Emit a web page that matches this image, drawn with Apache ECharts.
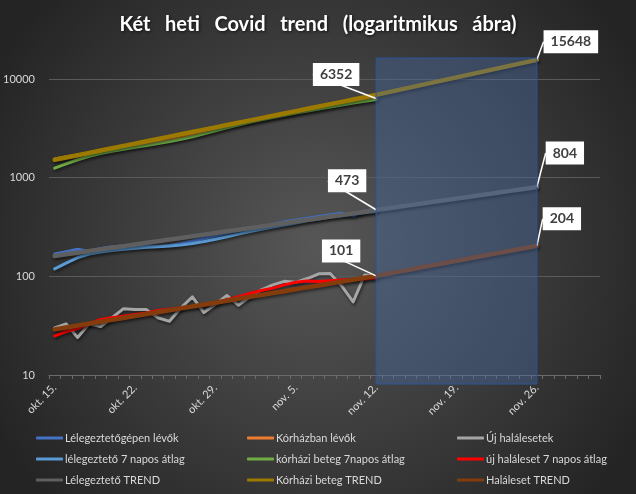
<!DOCTYPE html>
<html><head><meta charset="utf-8">
<script src="https://cdn.jsdelivr.net/npm/echarts@6/dist/echarts.min.js"></script>
<style>html,body{margin:0;padding:0;background:#2a2a2a}#c{width:636px;height:494px}</style>
</head><body><div id="c"></div>
<script>
const categories = ['okt. 15.','okt. 16.','okt. 17.','okt. 18.','okt. 19.','okt. 20.','okt. 21.','okt. 22.','okt. 23.','okt. 24.','okt. 25.','okt. 26.','okt. 27.','okt. 28.','okt. 29.','okt. 30.','okt. 31.',
 'nov. 1.','nov. 2.','nov. 3.','nov. 4.','nov. 5.','nov. 6.','nov. 7.','nov. 8.','nov. 9.','nov. 10.','nov. 11.','nov. 12.','nov. 13.','nov. 14.','nov. 15.','nov. 16.','nov. 17.','nov. 18.','nov. 19.','nov. 20.','nov. 21.','nov. 22.','nov. 23.','nov. 24.','nov. 25.','nov. 26.','nov. 27.','nov. 28.','nov. 29.','nov. 30.','dec. 1.'];

const ventilator = [169,178,188,180,192,200,203,201,203,201,206,215,228,243,258,275,292,305,318,338,358,372,388,405,420,438,410,462,473];
const hospital = [1545,1620,1700,1760,1850,1930,2020,2100,2190,2300,2400,2520,2680,2850,3050,3300,3520,3720,3920,4120,4350,4560,4780,5000,5250,5500,5800,6100,6352];
const deaths = [30,33,24,33,31,38,47,46,46,38,35,48,62,43,52,64,51,62,73,82,89,87,95,106,107,80,55,103,101];
const ventilatorAvg = [119,136,155,168,176,183,188,193,197,200,203,208,215,225,238,252,268,285,300,316,332,348,365,382,398,412,425,440,455];
const hospitalAvg = [1250,1380,1520,1650,1760,1850,1940,2030,2120,2220,2330,2450,2600,2780,2980,3200,3420,3640,3860,4070,4290,4510,4730,4950,5190,5440,5700,5960,6200];
const deathsAvg = [24.9,27.5,29.5,33,36.5,38,39.5,41,42.5,45,46.5,48,49.5,51,54,58,62,67,72,76,82,87,89.5,88.5,90,92,93,94,96];
const ventilatorTrend = [161,167.3,173.8,180.6,187.6,194.9,202.5,210.4,218.6,227.2,236,245.2,254.8,264.7,275,285.8,296.9,308.5,320.5,333,346,359.5,373.5,388,403.2,418.9,435.2,452.2,473,488.1,507.2,527,547.5,568.8,591,614,638,662.9,688.7,715.6,743.5,772.5,804];
const hospitalTrend = [1517,1601,1690,1784,1884,1988,2099,2216,2339,2469,2606,2751,2904,3066,3236,3416,3606,3807,4018,4242,4478,4727,4989,5267,5560,5869,6195,6540,6900,7315,7756,8222,8717,9242,9798,10388,11013,11676,12379,13124,13914,14752,15648];
const deathsTrend = [29,30.3,31.7,33.2,34.7,36.2,37.9,39.6,41.4,43.3,45.3,47.4,49.5,51.8,54.1,56.6,59.2,61.9,64.7,67.7,70.7,74,77.3,80.9,84.5,88.4,92.4,96.6,101,106.2,111.7,117.4,123.5,129.8,136.5,143.5,150.9,158.7,166.9,175.5,184.5,194,204];
const bandDates = ['nov. 12.','nov. 26.'];
const bandValues = [16330, 8.1];
const yRange = [10, 16330];

const FONT = 'Lato';
const shadow = {shadowColor:'rgba(0,0,0,0.5)', shadowBlur:3, shadowOffsetY:2, shadowOffsetX:1};

function withLabel(arr, idx) {
  return arr.map((v, i) => i === idx ? {value: v, label: {show: true}} : v);
}
function line(name, data, color, width, labelIdx, dx, dy) {
  const s = {
    name, type: 'line', data: labelIdx == null ? data : withLabel(data, labelIdx),
    color, showSymbol: true, showAllSymbol: true, symbol: 'circle', symbolSize: 0,
    lineStyle: Object.assign({color, width, cap: 'round', join: 'round'}, shadow),
    itemStyle: {color}, emphasis: {disabled: true}, silent: true, z: 2,
    label: {show: false, position: 'inside', backgroundColor: '#ffffff', color: '#404040',
      fontFamily: FONT, fontWeight: 'bold', fontSize: 14, padding: [5, 7, 4, 7]},
    labelLine: {show: true, lineStyle: {color: '#ffffff', width: 1.5}, smooth: false}
  };
  if (labelIdx != null) s.labelLayout = {dx, dy};
  return s;
}
const idx12 = categories.indexOf('nov. 12.');
const idx26 = categories.indexOf('nov. 26.');

const series = [
  line('Lélegeztetőgépen lévők', ventilator, '#4472C4', 3, idx12, -29, -29),
  line('Kórházban lévők', hospital, '#ED7D31', 3, idx12, -40, -24),
  line('Új halálesetek', deaths, '#A5A5A5', 3, idx12, -35, -25),
  line('lélegeztető 7 napos átlag', ventilatorAvg, '#5B9BD5', 3),
  line('kórházi beteg 7napos átlag', hospitalAvg, '#70AD47', 3),
  line('új haláleset 7 napos átlag', deathsAvg, '#FF0000', 3),
  line('Lélegeztető TREND', ventilatorTrend, '#5F5F5F', 4.5, idx26, 28, -34),
  line('Kórházi beteg TREND', hospitalTrend, '#9C7A00', 4.5, idx26, 34, -18),
  line('Haláleset TREND', deathsTrend, '#843C0C', 4.5, idx26, 25, -27),
  {
    type: 'custom', name: 'band', silent: true, z: 3, clip: false,
    data: [[categories.indexOf(bandDates[0]), categories.indexOf(bandDates[1]), bandValues[0], bandValues[1]]],
    encode: {x: [0, 1], y: [2, 3]},
    renderItem: function (params, api) {
      const p1 = api.coord([api.value(0), api.value(2)]);
      const p2 = api.coord([api.value(1), api.value(3)]);
      return {type: 'rect', shape: {x: p1[0], y: p1[1], width: p2[0] - p1[0], height: p2[1] - p1[1]},
        style: {fill: 'rgba(72,108,170,0.38)', stroke: '#2F5597', lineWidth: 1}};
    }
  }
];

function legend(left, names) {
  return {left, top: 426, orient: 'vertical', itemGap: 7, itemWidth: 27, itemHeight: 3, icon: 'roundRect',
    data: names, selectedMode: false,
    textStyle: {color: '#d9d9d9', fontFamily: FONT, fontSize: 11, lineHeight: 14, padding: [0,0,0,-3]}};
}

const chart = echarts.init(document.getElementById('c'), null, {renderer: 'canvas'});
chart.setOption({
  animation: false,
  backgroundColor: {type: 'radial', x: 0.5, y: 0.5, r: 0.75,
    colorStops: [{offset: 0, color: '#575757'}, {offset: 1, color: '#242424'}]},
  title: {text: 'Két   heti   Covid   trend   (logaritmikus   ábra)', left: 'center', top: 10,
    textStyle: {color: '#ffffff', fontFamily: FONT, fontWeight: 'bold', fontSize: 20,
      textShadowColor: 'rgba(0,0,0,0.7)', textShadowBlur: 3, textShadowOffsetX: 1, textShadowOffsetY: 1}},
  legend: [
    legend(31, ['Lélegeztetőgépen lévők', 'lélegeztető 7 napos átlag', 'Lélegeztető TREND']),
    legend(242, ['Kórházban lévők', 'kórházi beteg 7napos átlag', 'Kórházi beteg TREND']),
    legend(452, ['Új halálesetek', 'új haláleset 7 napos átlag', 'Haláleset TREND'])
  ],
  grid: {left: 43, right: 36, top: 58, bottom: 119},
  xAxis: {type: 'category', data: categories, boundaryGap: true,
    axisLine: {lineStyle: {color: '#6b6b6b'}},
    axisTick: {show: true, interval: 0, length: 4, lineStyle: {color: '#6b6b6b'}},
    axisLabel: {interval: 6, rotate: 45, color: '#d9d9d9', fontFamily: FONT, fontSize: 11, margin: 11},
    splitLine: {show: false}},
  yAxis: {type: 'log', logBase: 10, min: yRange[0], max: yRange[1],
    axisLine: {show: false}, axisTick: {show: false},
    axisLabel: {color: '#d9d9d9', fontFamily: FONT, fontSize: 11, margin: 14, showMaxLabel: false,
      formatter: v => String(Math.round(v))},
    splitLine: {show: true, showMaxLine: false, lineStyle: {color: '#5a5a5a', width: 1}}},
  series
});
</script></body></html>
